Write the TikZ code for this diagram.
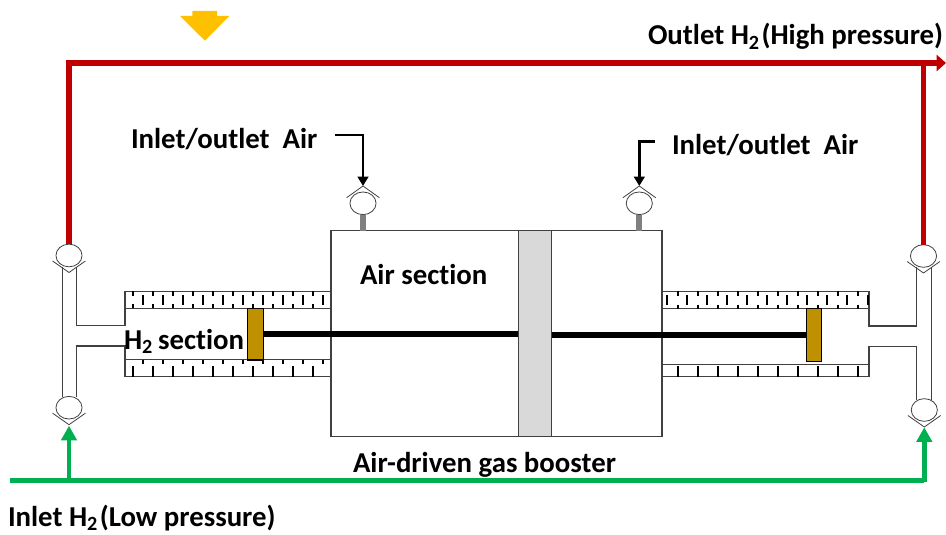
\documentclass[tikz,border=0pt]{standalone}
\usepackage{fontspec}
\setmainfont{Carlito}[Ligatures=NoCommon]
\usetikzlibrary{shapes.geometric,arrows.meta}
\definecolor{hired}{HTML}{C00000}
\definecolor{logreen}{HTML}{00B050}
\definecolor{gold}{HTML}{BF9000}
\definecolor{amber}{HTML}{FFC000}
\definecolor{lineg}{HTML}{404040}
\newcommand{\subtwo}{\textsubscript{2}\hspace{0.06em}}
\tikzset{
  thin line/.style={draw=lineg,line width=0.95pt},
  label text/.style={anchor=base west,inner sep=0pt,outer sep=0pt,text=black,font=\fontsize{21.6}{24}\selectfont\bfseries},
  valve/.style={ellipse,draw=lineg,line width=0.6pt,fill=white,inner sep=0pt,outer sep=0pt,minimum width=19.6pt,minimum height=17pt},
  chev/.style={draw=lineg,line width=0.6pt},
  stem/.style={draw=none,fill=gray},
  piston/.style={rectangle,draw=black,line width=0.9pt,fill=gold,inner sep=0pt,outer sep=0pt},
  mainbox/.style={rectangle,draw=lineg,line width=1pt,inner sep=0pt,outer sep=0pt},
  band/.style={rectangle,draw=lineg,line width=0.8pt,fill=black!15,inner sep=0pt,outer sep=0pt},
  rod/.style={draw=black,line width=4.4pt},
  tick/.style={draw=black,line width=1.4pt},
  hipipe/.style={draw=hired,line width=3.8pt},
  lopipe/.style={draw=logreen,line width=3.6pt},
  blackpipe/.style={draw=black,line width=1.9pt},
}
\begin{document}
\begin{tikzpicture}[x=0.75pt,y=-0.75pt]
\useasboundingbox (0,0) rectangle (946,535);
% main body
\node[mainbox,minimum width=248.25pt,minimum height=154.5pt] (body) at (496.5,333.5) {};
\node[band,minimum width=25pt,minimum height=154.5pt] (bandc) at (535,333.5) {};
% jackets left
\draw[thin line] (331,291.3) -- (125,291.3) -- (125,325.7) -- (76.7,325.7) -- (76.7,267);
\draw[thin line] (62.7,267) -- (62.7,397);
\draw[thin line] (76.7,397) -- (76.7,346) -- (125,346) -- (125,376.7) -- (331,376.7);
\draw[thin line] (125,308.3) -- (331,308.3);
\draw[thin line] (125,359.7) -- (331,359.7);
\foreach \k in {0,...,9}{
  \pgfmathsetmacro{\xa}{132.7+20*\k}
  \pgfmathsetmacro{\xb}{142.7+20*\k}
  \draw[tick] (\xa,291.3) -- (\xa,295.5);
  \draw[tick] (\xa,304.1) -- (\xa,308.3);
  \draw[tick] (\xb,295) -- (\xb,305);
  \draw[tick] (\xb,359.7) -- (\xb,364);
  \draw[tick] (\xa,366) -- (\xa,376.7);
}
% jackets right
\draw[thin line] (662.5,291.3) -- (869,291.3) -- (869,326) -- (916.7,326) -- (916.7,267);
\draw[thin line] (931.7,267) -- (931.7,400);
\draw[thin line] (916.7,400) -- (916.7,346.3) -- (869,346.3) -- (869,376.7) -- (662,376.7);
\draw[thin line] (662.5,308.7) -- (869,308.7);
\draw[thin line] (662,364.3) -- (869,364.3);
\foreach \k in {0,...,9}{
  \pgfmathsetmacro{\xa}{677.7+20*\k}
  \pgfmathsetmacro{\xb}{667.3+20*\k}
  \draw[tick] (\xa,291.3) -- (\xa,295.5);
  \draw[tick] (\xa,304.5) -- (\xa,308.7);
  \draw[tick] (\xb,295) -- (\xb,305);
  \draw[tick] (\xa,365.5) -- (\xa,376.7);
}
\draw[tick] (868.3,295) -- (868.3,305);
% pistons and rod
\node[piston,minimum width=12pt,minimum height=38.6pt] (lp) at (255.3,334.2) {};
\node[piston,minimum width=11.5pt,minimum height=40pt] (rp) at (814,334.8) {};
\draw[rod] (lp.east) -- (lp.east -| bandc.west);
\draw[rod] (rp.west) -- (rp.west -| bandc.east);
% valves
\node[valve] (vlt) at (69,255.5) {};
\node[valve] (vlb) at (69,407.7) {};
\node[valve] (vrt) at (923.5,256) {};
\node[valve] (vrb) at (924.3,410) {};
\node[valve] (vat) at (363,203.3) {};
\node[valve] (vbt) at (639.3,203.3) {};
\foreach \v in {vlt,vlb,vrt,vrb}{
  \draw[chev] ([shift={(-16.4,5.5)}]\v.center) -- ([shift={(0,17)}]\v.center) -- ([shift={(16.4,5.5)}]\v.center);
}
\foreach \v in {vat,vbt}{
  \draw[chev] ([shift={(-16.4,-5.6)}]\v.center) -- ([shift={(0,-17.3)}]\v.center) -- ([shift={(16.4,-5.6)}]\v.center);
}
% stems
\fill[stem] ([xshift=-2.25pt]vat.south) rectangle ([xshift=2.25pt]vat.south |- body.north);
\fill[stem] ([xshift=-2.25pt]vbt.south) rectangle ([xshift=2.25pt]vbt.south |- body.north);
% air inlets
\coordinate (ab) at (335,135);
\coordinate (bb) at (655,141.3);
\draw[blackpipe,-{Triangle[length=7pt,width=8pt]}] (ab) -| ([yshift=4.5pt]vat.north);
\draw[blackpipe,-{Triangle[length=7pt,width=8pt]}] (bb) -| ([yshift=4.5pt]vbt.north);
% high pressure
\coordinate (hpend) at (946,63);
\draw[hipipe,-{Triangle[length=7pt,width=12pt]}] (vlt.north) |- (hpend);
\draw[hipipe] (vrt.north) -- (vrt.north |- hpend);
% low pressure
\coordinate (lpstart) at (10,480.5);
\coordinate (lpmid) at (69,480.5);
\coordinate (lpend) at (924.3,480.5);
\draw[lopipe] (lpstart) -- (lpend);
\draw[lopipe,-{Triangle[length=11pt,width=11.5pt]}] (lpmid) -- (vlb.south |- 0,425.7);
\draw[lopipe,-{Triangle[length=11pt,width=11.5pt]}] ([yshift=-1.35pt]lpend) -- (vrb.south |- 0,427.3);
% yellow arrow
\fill[amber] (192.3,11) -- (217,11) -- (217,16) -- (229.3,16) -- (205,40.7) -- (180,16) -- (192.3,16) -- cycle;
% labels
\node[label text] (t1) at (648,45) {Outlet H\subtwo(High pressure)};
\node[label text] (t2) at (131,148) {Inlet/outlet\ \ Air};
\node[label text] (t3) at (672,154) {Inlet/outlet\ \ Air};
\node[label text] (t4) at (360,284) {Air section};
\node[label text] (t5) at (124,349.5) {H\textsubscript{2}\hspace{-0.05em} section};
\node[label text] (t6) at (353,472) {Air-driven gas booster};
\node[label text] (t7) at (8,526.5) {Inlet H\subtwo(Low pressure)};
\end{tikzpicture}
\end{document}
